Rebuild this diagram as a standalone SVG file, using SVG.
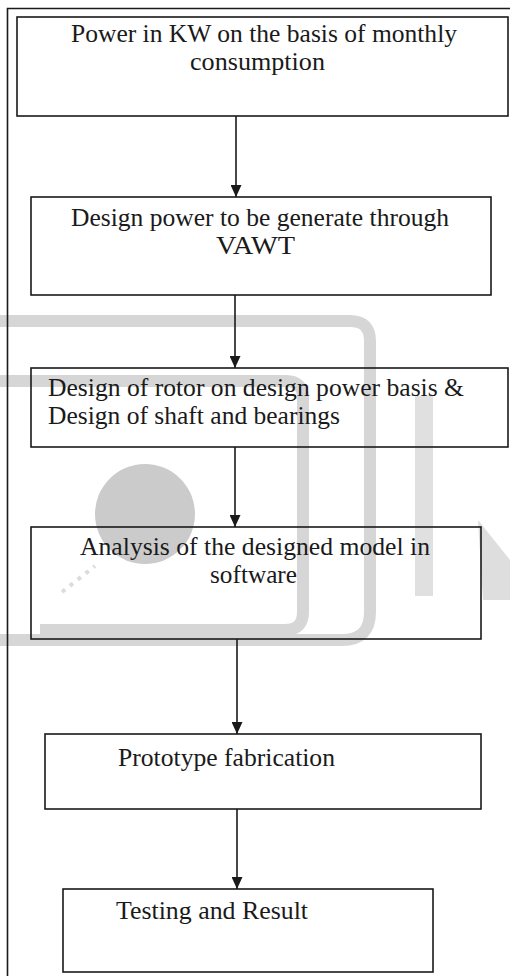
<svg xmlns="http://www.w3.org/2000/svg" width="510" height="976" viewBox="0 0 510 976">
<style>
.box{fill:none;stroke:#1a1a1a;stroke-width:1.6}
.t{font-family:'Liberation Serif','DejaVu Serif',serif;font-size:25.6px;fill:#1a1a1a}
.m{text-anchor:middle}
.c{stroke:#1a1a1a;stroke-width:1.6;fill:none}
.wm{fill:none;stroke:#d6d6d6;stroke-width:12}
</style>
<defs>
<marker id="ah" markerWidth="12" markerHeight="11" refX="12" refY="5.5" orient="auto" markerUnits="userSpaceOnUse"><path d="M0,0 L12,5.5 L0,11 Z" fill="#1a1a1a"/></marker>
</defs>
<rect width="510" height="976" fill="#fff"/>
<g id="watermark">
<path class="wm" d="M0 321 H350 Q370 321 370 341 V612 Q370 640 342 640 H0" stroke="#e0e0e0" stroke-width="16"/>
<path class="wm" d="M0 381 H286 Q303 381 303 398 V612 Q303 630 285 630 H40"/>
<rect x="415" y="396" width="18" height="200" fill="#e0e0e0"/>
<path d="M478 520 L510 560 L510 600 L483 600 Z" fill="#dedede"/>
<circle cx="145" cy="514" r="50" fill="#cbcbcb"/>
<path d="M62 592 L95 566" stroke="#dcdcdc" stroke-width="4" stroke-dasharray="4 6"/>
</g>
<path id="frame" class="box" d="M510 8.5 H7.5 V976"/>
<g id="connectors">
<line class="c" x1="236" y1="116" x2="236" y2="197" marker-end="url(#ah)"/>
<line class="c" x1="235" y1="295" x2="235" y2="368" marker-end="url(#ah)"/>
<line class="c" x1="235" y1="447" x2="235" y2="527" marker-end="url(#ah)"/>
<line class="c" x1="237" y1="639" x2="237" y2="734" marker-end="url(#ah)"/>
<line class="c" x1="237" y1="809" x2="237" y2="889" marker-end="url(#ah)"/>
</g>
<g id="n1">
<rect class="box" x="17" y="17" width="491" height="99"/>
<text class="t m" x="264" y="42" font-family="Liberation Serif, serif" textLength="386" lengthAdjust="spacingAndGlyphs">Power in KW on the basis of monthly</text>
<text class="t m" x="257.5" y="70" font-family="Liberation Serif, serif" textLength="135" lengthAdjust="spacingAndGlyphs">consumption</text>
</g>
<g id="n2">
<rect class="box" x="31" y="197" width="460" height="98"/>
<text class="t m" x="260" y="226" font-family="Liberation Serif, serif" textLength="378" lengthAdjust="spacingAndGlyphs">Design power to be generate through</text>
<text class="t m" x="255.5" y="254" font-family="Liberation Serif, serif" textLength="79" lengthAdjust="spacingAndGlyphs">VAWT</text>
</g>
<g id="n3">
<rect class="box" x="31" y="368" width="477" height="79"/>
<text class="t" x="48" y="396" font-family="Liberation Serif, serif" textLength="416" lengthAdjust="spacingAndGlyphs">Design of rotor on design power basis &amp;</text>
<text class="t" x="48" y="424" font-family="Liberation Serif, serif" textLength="292" lengthAdjust="spacingAndGlyphs">Design of shaft and bearings</text>
</g>
<g id="n4">
<rect class="box" x="31" y="527" width="450" height="112"/>
<text class="t m" x="255" y="555" font-family="Liberation Serif, serif" textLength="350" lengthAdjust="spacingAndGlyphs">Analysis of the designed model in</text>
<text class="t m" x="253.5" y="583" font-family="Liberation Serif, serif" textLength="87" lengthAdjust="spacingAndGlyphs">software</text>
</g>
<g id="n5">
<rect class="box" x="45" y="734" width="436" height="75"/>
<text class="t" x="118" y="766" font-family="Liberation Serif, serif" textLength="217" lengthAdjust="spacingAndGlyphs">Prototype fabrication</text>
</g>
<g id="n6">
<rect class="box" x="63" y="889" width="370" height="83"/>
<text class="t" x="116" y="919" font-family="Liberation Serif, serif" textLength="192" lengthAdjust="spacingAndGlyphs">Testing and Result</text>
</g>
</svg>
